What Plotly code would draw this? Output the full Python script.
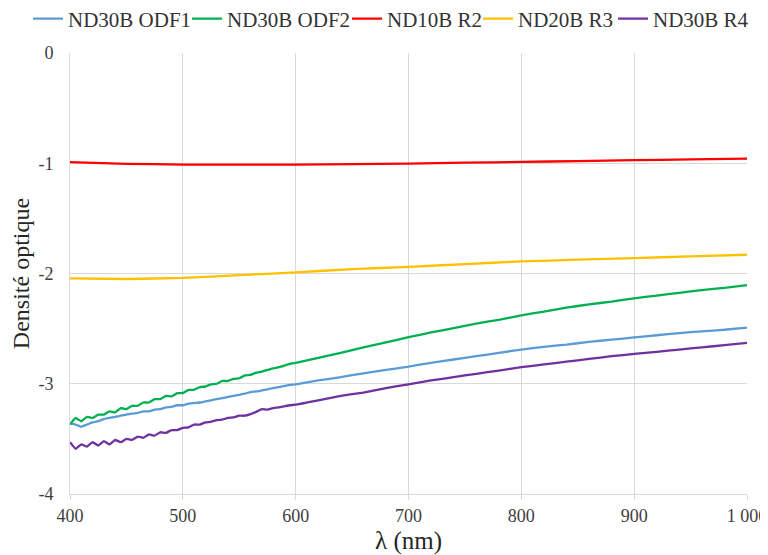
import plotly.graph_objects as go

# Wavelengths (nm)
lam_dense = [400, 405, 410, 415, 420, 425, 430, 435, 440, 445, 450, 455, 460, 465, 470, 475, 480, 485, 490, 495,
             500, 505, 510, 515, 520, 525, 530, 535, 540, 545, 550, 555, 560, 565, 570, 575, 580, 585, 590, 595,
             600, 620, 640, 660, 680, 700, 720, 740, 760, 780, 800, 820, 840, 860, 880, 900, 920, 940, 960, 980, 1000]
lam_sparse = [400, 450, 500, 550, 600, 650, 700, 750, 800, 850, 900, 950, 1000]

odf1 = [-3.36, -3.37, -3.39, -3.37, -3.35, -3.34, -3.32, -3.31, -3.30, -3.29, -3.28, -3.27, -3.265, -3.25, -3.25,
        -3.235, -3.23, -3.215, -3.21, -3.195, -3.195, -3.18, -3.175, -3.17, -3.16, -3.15, -3.14, -3.13, -3.12, -3.11,
        -3.10, -3.09, -3.075, -3.07, -3.06, -3.05, -3.04, -3.03, -3.02, -3.01, -3.005,
        -2.97, -2.94, -2.905, -2.875, -2.845, -2.81, -2.78, -2.75, -2.72, -2.69, -2.665, -2.645, -2.62, -2.60, -2.58,
        -2.56, -2.54, -2.525, -2.51, -2.49]
odf2 = [-3.37, -3.31, -3.34, -3.30, -3.31, -3.28, -3.28, -3.25, -3.26, -3.22, -3.23, -3.20, -3.20, -3.17, -3.17,
        -3.14, -3.14, -3.11, -3.115, -3.085, -3.085, -3.055, -3.055, -3.03, -3.025, -3.005, -3.0, -2.975, -2.975, -2.955,
        -2.95, -2.925, -2.92, -2.90, -2.89, -2.875, -2.86, -2.85, -2.835, -2.82, -2.81,
        -2.765, -2.72, -2.67, -2.625, -2.577, -2.535, -2.495, -2.455, -2.42, -2.38, -2.345, -2.31, -2.28, -2.255, -2.225,
        -2.20, -2.175, -2.15, -2.13, -2.105]
r4 = [-3.53, -3.59, -3.55, -3.57, -3.53, -3.56, -3.52, -3.55, -3.51, -3.53, -3.50, -3.51, -3.48, -3.49, -3.46,
      -3.47, -3.44, -3.445, -3.42, -3.42, -3.40, -3.395, -3.37, -3.37, -3.35, -3.345, -3.33, -3.325, -3.31, -3.305,
      -3.29, -3.29, -3.275, -3.255, -3.23, -3.235, -3.22, -3.215, -3.205, -3.195, -3.19,
      -3.15, -3.11, -3.08, -3.04, -3.005, -2.97, -2.94, -2.91, -2.88, -2.85, -2.825, -2.80, -2.775, -2.75, -2.73,
      -2.71, -2.69, -2.67, -2.65, -2.63]
r2 = [-0.99, -1.005, -1.012, -1.013, -1.012, -1.008, -1.003, -0.995, -0.988, -0.98, -0.972, -0.965, -0.958]
r3 = [-2.045, -2.05, -2.04, -2.015, -1.99, -1.96, -1.94, -1.915, -1.89, -1.875, -1.86, -1.845, -1.83]

x_ticks = [400, 500, 600, 700, 800, 900, 1000]
x_ticktext = ["400", "500", "600", "700", "800", "900", "1 000"]
y_ticks = [0, -1, -2, -3, -4]
y_ticktext = ["0", "-1", "-2", "-3", "-4"]

FONT = "Liberation Serif"
W, H = 760, 547  # page adds an 8px body margin
PLOT_L, PLOT_R, PLOT_T, PLOT_B = 62, 21, 45, 61
PLOT_W = W - PLOT_L - PLOT_R
PLOT_H = H - PLOT_T - PLOT_B

fig = go.Figure()
series = [
    ("ND30B ODF1", lam_dense, odf1, "#5B9BD5", 114),
    ("ND30B ODF2", lam_dense, odf2, "#00B050", 115),
    ("ND10B R2", lam_sparse, r2, "#FF0000", 86),
    ("ND20B R3", lam_sparse, r3, "#FFC000", 90),
    ("ND30B R4", lam_dense, r4, "#7030A0", 97),
]
for name, xs, ys, col, lw in series:
    fig.add_trace(go.Scatter(x=xs, y=ys, name=name, mode="lines", legendwidth=lw,
                             line=dict(color=col, width=2.3, shape="spline", smoothing=0.3)))

fig.update_layout(
    width=W, height=H,
    margin=dict(l=PLOT_L, r=PLOT_R, t=PLOT_T, b=PLOT_B, autoexpand=False),
    paper_bgcolor="white", plot_bgcolor="white",
    font=dict(family=FONT, size=18, color="#404040"),
    legend=dict(orientation="h", x=(20 - PLOT_L) / PLOT_W, xanchor="left", xref="paper",
                y=1 + (PLOT_T - 11) / PLOT_H, yanchor="middle", yref="paper",
                itemwidth=30, font=dict(family=FONT, size=21, color="#333333"),
                entrywidthmode="pixels", tracegroupgap=0),
    showlegend=True,
)
fig.update_xaxes(range=[400, 1000], tickvals=x_ticks, ticktext=x_ticktext,
                 showgrid=True, gridcolor="#d9d9d9", gridwidth=1,
                 showline=True, linecolor="#d9d9d9", linewidth=1,
                 ticks="outside", ticklen=5, tickcolor="#d9d9d9",
                 zeroline=False, ticklabelstandoff=0,
                 tickfont=dict(family=FONT, size=18, color="#404040"),
                 title=dict(text="λ (nm)", font=dict(family=FONT, size=25, color="#262626"), standoff=10))
fig.update_yaxes(range=[-4, 0], tickvals=y_ticks, ticktext=y_ticktext,
                 showgrid=True, gridcolor="#d9d9d9", gridwidth=1,
                 showline=True, linecolor="#d9d9d9", linewidth=1,
                 zeroline=False, ticklabelstandoff=12,
                 tickfont=dict(family=FONT, size=18, color="#404040"),
                 title=dict(text="Densité optique", font=dict(family=FONT, size=24, color="#262626"), standoff=10))

fig.write_html("out.html")
